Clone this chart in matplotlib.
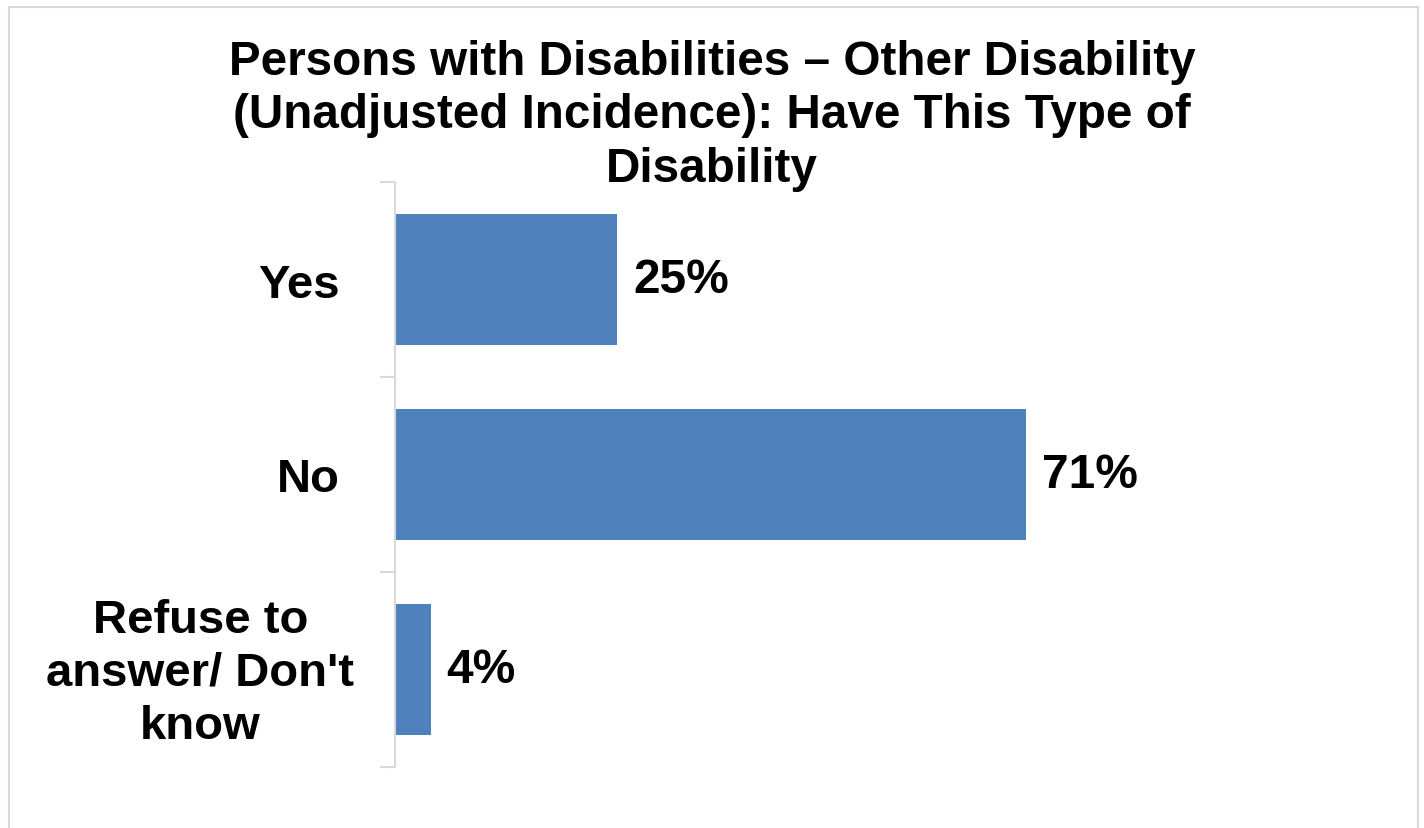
import matplotlib.pyplot as plt
from matplotlib.patches import Rectangle
from matplotlib.transforms import ScaledTranslation

categories = ['Yes', 'No', "Refuse to\nanswer/ Don't\nknow"]
values = [25, 71, 4]
value_labels = ['25%', '71%', '4%']

plt.rcParams['font.family'] = ['Liberation Sans', 'DejaVu Sans']

fig = plt.figure(figsize=(14.24, 8.29), dpi=100)
W, H = 1424, 829

# light grey chart border
fig.patches.append(Rectangle((9 / W, -0.01), (1418 - 9) / W, 1 - 8 / H + 0.01,
                             transform=fig.transFigure, fill=False,
                             edgecolor='#D9D9D9', linewidth=1.5))

ax = fig.add_axes([395 / W, (H - 768) / H, 889 / W, 585 / H])

pos = list(range(len(categories)))
ax.barh(pos, values, height=0.667, color='#4F81BD')
ax.set_xlim(0, 100)
ax.set_ylim(len(categories) - 0.5, -0.5)

for p, v, lab in zip(pos, values, value_labels):
    ax.annotate(lab, (v, p), xytext=(11.5, 0), textcoords='offset points',
                va='center', ha='left', fontsize=34.5, fontweight='bold',
                annotation_clip=False)

ax.set_yticks(pos)
ax.set_yticklabels(categories, fontsize=34, fontweight='bold',
                   multialignment='center', linespacing=1.26)
ax.set_yticks([-0.5, 0.5, 1.5, 2.5], minor=True)
ax.tick_params(axis='y', which='major', length=0, pad=40)
ax.tick_params(axis='y', which='minor', length=11, width=1.5, color='#D9D9D9')

# the multi-line label sits a bit further right in the original
lbl = ax.get_yticklabels()[2]
lbl.set_transform(lbl.get_transform() + ScaledTranslation(0.15, 0.06, fig.dpi_scale_trans))

ax.xaxis.set_visible(False)
for s in ['top', 'right', 'bottom']:
    ax.spines[s].set_visible(False)
ax.spines['left'].set_color('#D9D9D9')
ax.spines['left'].set_linewidth(1.5)

fig.text(712 / W, 1 - 40 / H,
         'Persons with Disabilities \u2013 Other Disability\n'
         '(Unadjusted Incidence): Have This Type of\nDisability',
         ha='center', va='top', fontsize=34.3, fontweight='bold',
         linespacing=1.24)

fig.savefig('out.png', dpi=100)
